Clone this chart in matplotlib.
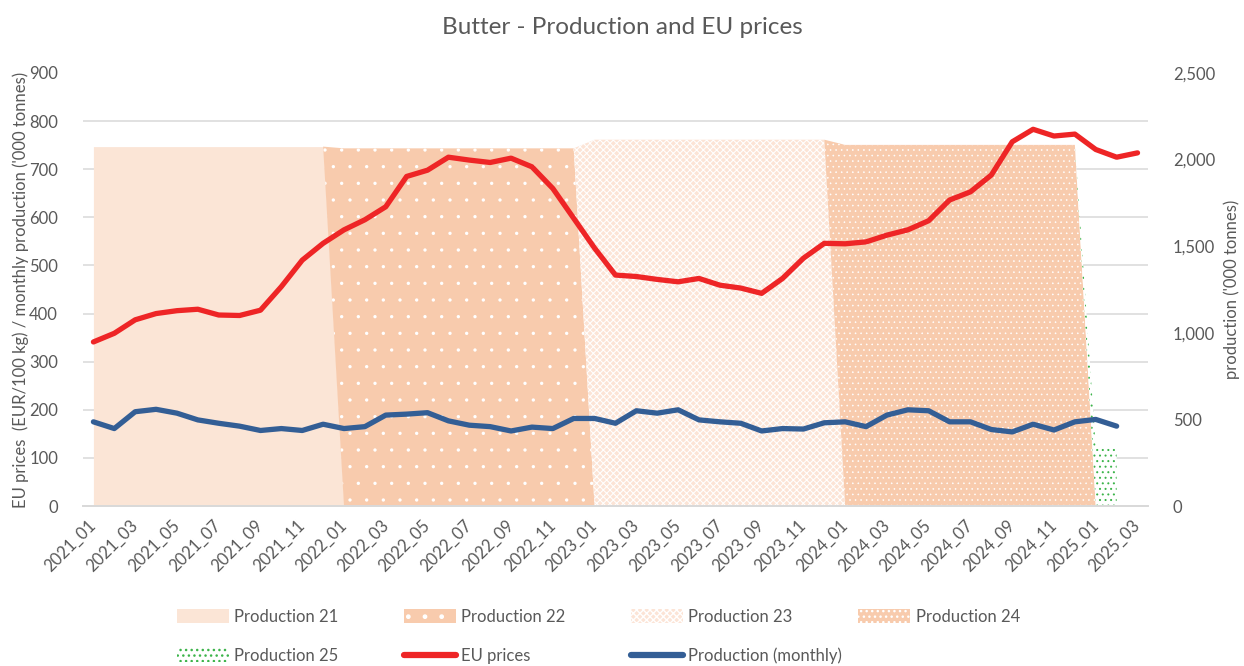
import numpy as np
import matplotlib
matplotlib.use('Agg')
import matplotlib.pyplot as plt
from matplotlib.lines import Line2D

# month labels 2021_01 .. 2025_03
months = [f'{y}_{m:02d}' for y in range(2021, 2026) for m in range(1, 13)][:51]

# EU butter price (EUR/100 kg)
eu_prices = [341, 359, 387, 400, 406, 409, 397, 396, 407, 456, 511, 546,
             574, 595, 622, 685, 698, 725, 719, 714, 723, 705, 660, 598,
             536, 480, 477, 471, 466, 473, 459, 453, 442, 473, 515, 546,
             545, 549, 563, 574, 593, 636, 653, 688, 757, 783, 769, 773,
             741, 725, 734]

# monthly production ('000 tonnes), up to 2025_02
prod_monthly = [175, 161, 196, 201, 193, 179, 172, 166, 157, 161, 157, 170,
                161, 165, 189, 191, 194, 177, 168, 165, 156, 164, 161, 182,
                182, 172, 198, 193, 200, 179, 175, 172, 156, 161, 160, 173,
                175, 165, 189, 200, 198, 175, 175, 159, 154, 170, 158, 175,
                180, 166]

# annual production ('000 tonnes), shown for the months of each year
prod_labels = ['Production 21', 'Production 22', 'Production 23',
               'Production 24', 'Production 25']
prod_years = ['2021', '2022', '2023', '2024', '2025']
prod_totals = [2075, 2065, 2115, 2085, 340]

GRAY = '#595959'
plt.rcParams['font.family'] = ['Lato', 'DejaVu Sans']

fig = plt.figure(figsize=(12.44, 6.66), dpi=100)
ax_b = fig.add_axes([0.0667, 0.2402, 0.8561, 0.6502])  # production areas (right scale)
ax_l = ax_b.twinx()                                    # prices / monthly (left scale)

# stacked annual areas, data up to 2025_02
n_area = len(prod_monthly)
x_area = np.arange(n_area)
series = np.array([[tot if mo.startswith(yr) else 0 for mo in months[:n_area]]
                   for yr, tot in zip(prod_years, prod_totals)], dtype=float)
tops = np.cumsum(series, axis=0)
bottoms = np.vstack([np.zeros(n_area), tops[:-1]])

styles = [
    dict(facecolor='#FBE5D6', edgecolor='#FBE5D6', hatch=None, hlw=0.5),
    dict(facecolor='#F8CBAD', edgecolor='white', hatch='.', hlw=0.0),
    dict(facecolor='#FCE4D6', edgecolor='white', hatch='xxxxx', hlw=0.75),
    dict(facecolor='#F8CBAD', edgecolor='white', hatch='...', hlw=0.4),
    dict(facecolor='white', edgecolor='#3CB44A', hatch='...', hlw=0.7),
]
area_handles = []
for lab, lo, hi, st in zip(prod_labels, bottoms, tops, styles):
    with plt.rc_context({'hatch.linewidth': st['hlw']}):
        pc = ax_b.fill_between(x_area, lo, hi,
                               facecolor=st['facecolor'], edgecolor=st['edgecolor'],
                               hatch=st['hatch'], linewidth=0, label=lab, zorder=2)
    area_handles.append(pc)

ax_b.set_ylim(0, 2500)
ax_b.set_yticks(np.arange(0, 2501, 500))
ax_b.yaxis.set_major_formatter(matplotlib.ticker.StrMethodFormatter('{x:,.0f}'))
ax_b.yaxis.tick_right()
ax_b.yaxis.set_label_position('right')
ax_b.set_ylabel("production ('000 tonnes)", color=GRAY, fontsize=12, labelpad=6)
# gridlines follow the left axis ticks
ax_b.set_yticks(np.arange(0, 901, 100) * 2500 / 900, minor=True)
ax_b.grid(which='minor', axis='y', color='#D9D9D9', linewidth=1.1, zorder=0)
ax_b.set_axisbelow(True)

# lines on left scale
x_all = np.arange(len(months))
ax_l.plot(x_all[:len(eu_prices)], eu_prices, color='#EE2526', lw=3.8,
          solid_joinstyle='round', solid_capstyle='round', label='EU prices')
ax_l.plot(x_all[:len(prod_monthly)], prod_monthly, color='#335E95', lw=3.8,
          solid_joinstyle='round', solid_capstyle='round', label='Production (monthly)')
ax_l.set_ylim(0, 900)
ax_l.set_yticks(np.arange(0, 901, 100))
ax_l.yaxis.tick_left()
ax_l.yaxis.set_label_position('left')
ax_l.set_ylabel("EU prices  (EUR/100 kg) / monthly production ('000 tonnes)",
                color=GRAY, fontsize=12, labelpad=0)

ax_b.set_xlim(-0.5, len(months) - 0.5)
ax_b.set_xticks(x_all[::2])
ax_b.set_xticklabels(months[::2], rotation=45, ha='right', va='center',
                     rotation_mode='anchor')

for a in (ax_b, ax_l):
    for side in ('top', 'left', 'right'):
        a.spines[side].set_visible(False)
    a.spines['bottom'].set_color('#D9D9D9')
    a.spines['bottom'].set_linewidth(1.3)
    a.tick_params(axis='both', which='both', length=0, labelcolor=GRAY, labelsize=12)
ax_b.tick_params(axis='y', pad=18)
ax_l.tick_params(axis='y', pad=18)
ax_b.tick_params(axis='x', pad=12)

fig.suptitle('Butter - Production and EU prices', x=0.5, y=0.975, color=GRAY,
             fontsize=17.5, va='top')

# legend, one entry per slot to mimic the Excel grid
line_handles = [Line2D([], [], color='#EE2526', lw=4.5, solid_capstyle='round'),
                Line2D([], [], color='#335E95', lw=4.5, solid_capstyle='round')]
entries = list(zip(area_handles, prod_labels)) + \
    list(zip(line_handles, ['EU prices', 'Production (monthly)']))
slots = [(0, 0), (1, 0), (2, 0), (3, 0), (0, 1), (1, 1), (2, 1)]
for (h, lab), (col, row) in zip(entries, slots):
    fig.legend([h], [lab], loc='center left', frameon=False, fontsize=12,
               labelcolor=GRAY, handlelength=3.1, handleheight=0.9,
               handletextpad=0.35, borderpad=0, borderaxespad=0,
               bbox_to_anchor=((177 + col * 227) / 1244, 1 - (617 + row * 39) / 666))

fig.savefig('out.png', dpi=100)
